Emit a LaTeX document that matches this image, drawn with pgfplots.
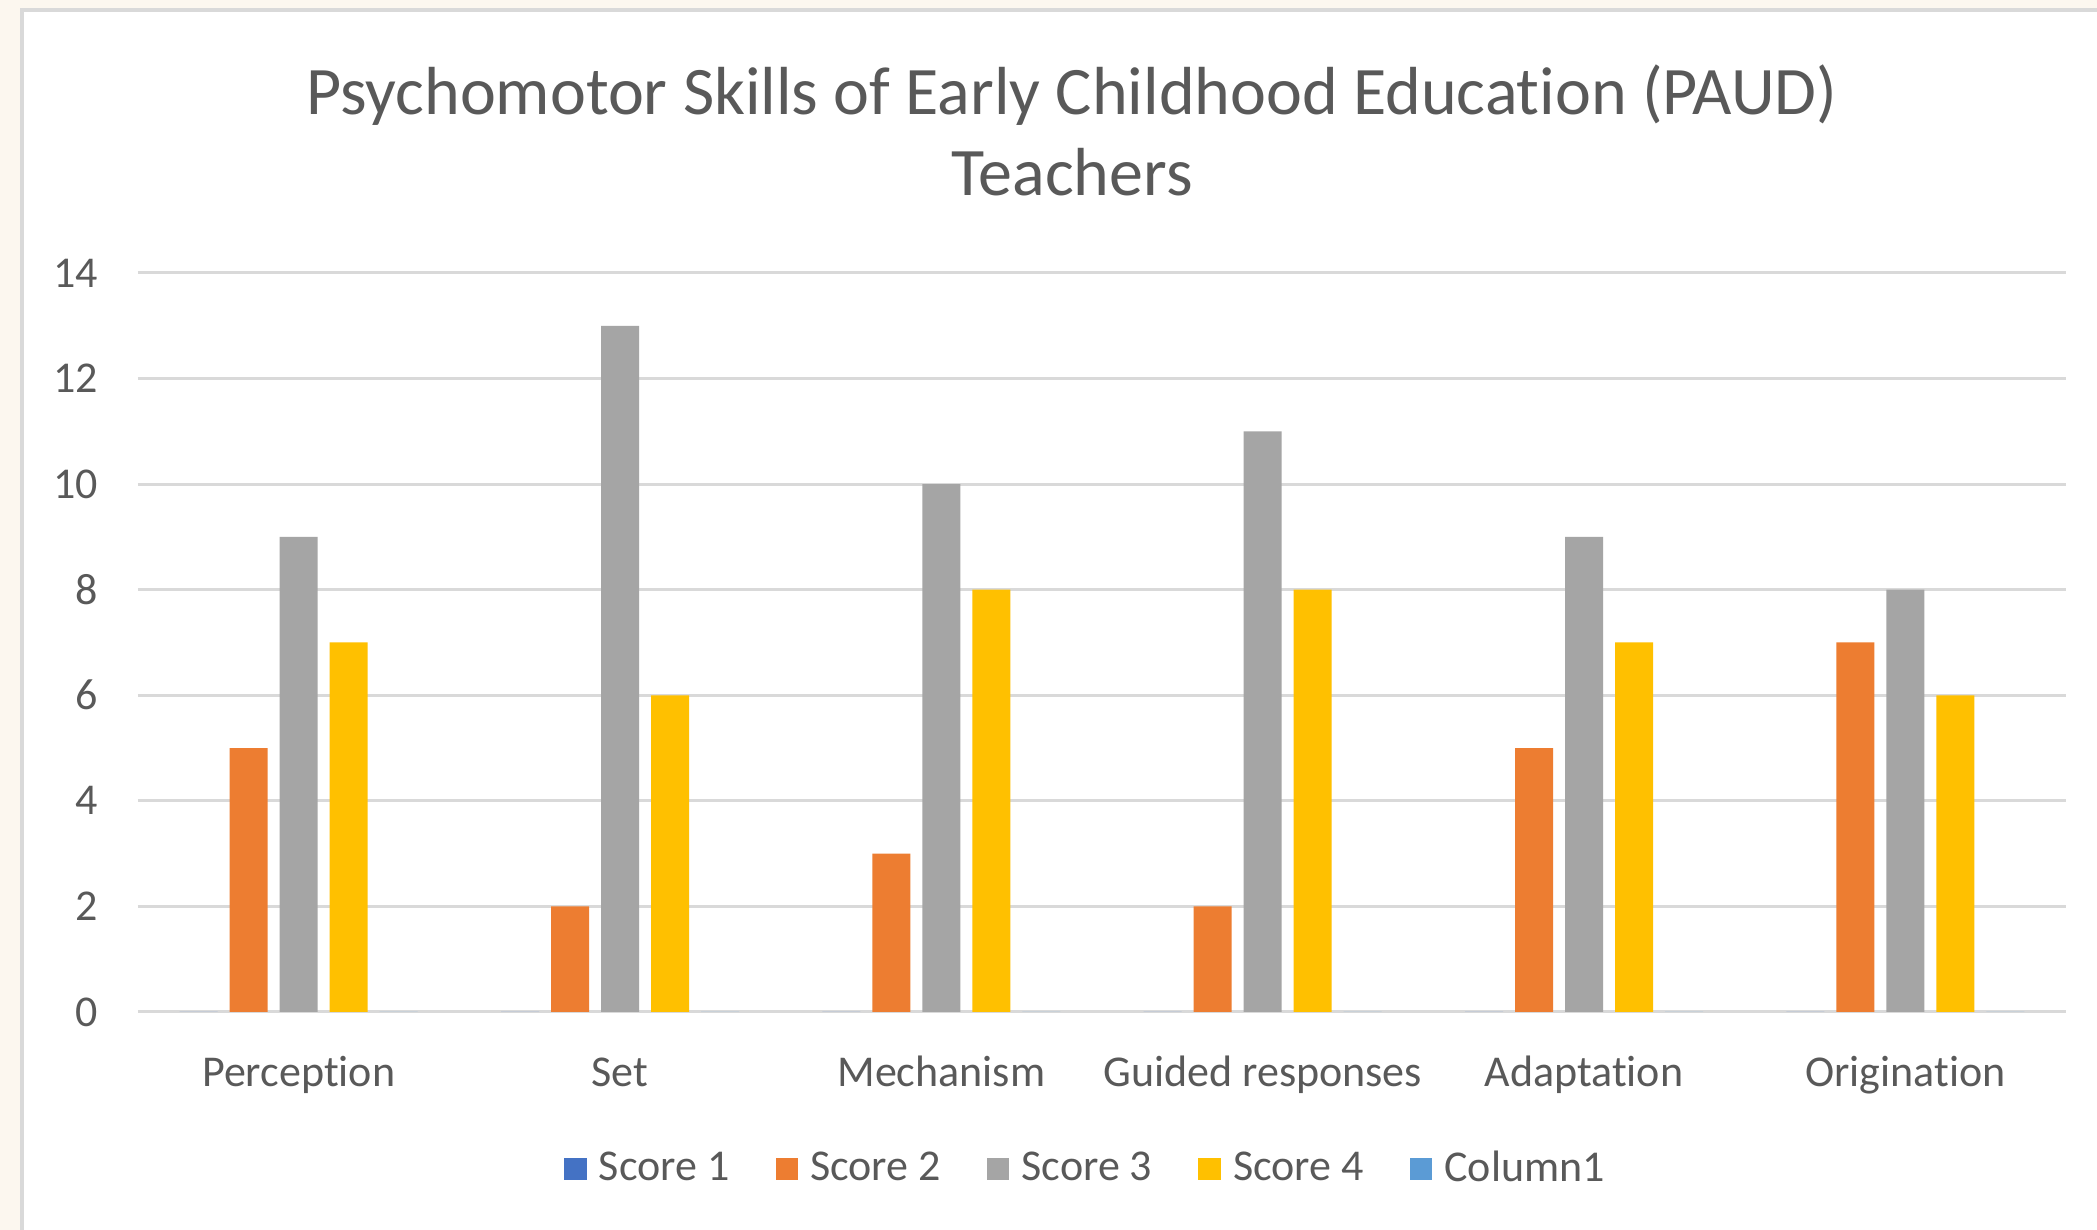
\documentclass[border=0pt]{standalone}
\usepackage{fontspec}
\setmainfont{Carlito}[Ligatures=NoCommon]
\usepackage{pgfplots}
\usepackage{pgfplotstable}
\pgfplotsset{compat=1.18}
\definecolor{cS1}{HTML}{4472C4}
\definecolor{cS2}{HTML}{ED7D31}
\definecolor{cS3}{HTML}{A5A5A5}
\definecolor{cS4}{HTML}{FFC000}
\definecolor{cC1}{HTML}{5B9BD5}
\definecolor{gridc}{HTML}{D9D9D9}
\definecolor{txt}{HTML}{595959}
\definecolor{cream}{HTML}{FCF7EF}
\pgfplotstableread{
x s1 s2 s3 s4 c1
0 0 5 9 7 0
1 0 2 13 6 0
2 0 3 10 8 0
3 0 2 11 8 0
4 0 5 9 7 0
5 0 7 8 6 0
}\data
\pgfplotsset{sqleg/.style={legend image code/.code={\fill[##1] (0pt,-2.8pt) rectangle (5.6pt,2.8pt);}}}
\begin{document}
\begin{tikzpicture}
\useasboundingbox (0,0) rectangle (524.25pt,307.5pt);
\clip (0,0) rectangle (524.25pt,307.5pt);
\fill[cream] (0,0) rectangle (524.25pt,307.5pt);
\draw[gridc, line width=1pt, fill=white] (5.5pt,-10pt) rectangle (540pt,304.9pt);
\node[anchor=base, text=txt, font=\fontsize{17}{20}\selectfont] at (268pt,278.75pt) {Psychomotor Skills of Early Childhood Education (PAUD)};
\node[anchor=base, text=txt, font=\fontsize{17}{20}\selectfont] at (268pt,258.7pt) {Teachers};
\begin{axis}[
  at={(34.5pt,54.5pt)}, anchor=south west,
  width=482pt, height=184.75pt, scale only axis,
  ybar=3pt, bar width=9.5pt,
  xmin=-0.5, xmax=5.5, ymin=0, ymax=14,
  xtick={0,...,5},
  xticklabels={Perception,Set,Mechanism,Guided responses,Adaptation,Origination},
  ytick={0,2,...,14},
  ymajorgrids, grid style={draw=gridc, line width=0.75pt},
  major tick length=0pt,
  axis line style={draw=none},
  tick label style={font=\fontsize{11}{13}\selectfont, text=txt},
  /pgf/number format/assume math mode=true,
  xticklabel style={text height=8pt, text depth=2pt, yshift=-7pt},
  yticklabel style={xshift=-6.4pt},
  legend columns=5,
  legend style={at={(0.4925,-0.2125)}, anchor=center, draw=none, fill=none,
    font=\fontsize{11}{13}\selectfont, text=txt,
    /tikz/every odd column/.append style={column sep=1.6pt},
    /tikz/every even column/.append style={column sep=10pt},
    nodes={inner sep=1.5pt}},
  legend cell align=left,
]
\addplot[fill=cS1, draw=none, sqleg] table[x=x, y=s1] {\data};
\addplot[fill=cS2, draw=none, sqleg] table[x=x, y=s2] {\data};
\addplot[fill=cS3, draw=none, sqleg] table[x=x, y=s3] {\data};
\addplot[fill=cS4, draw=none, sqleg] table[x=x, y=s4] {\data};
\addplot[fill=cC1, draw=none, sqleg] table[x=x, y=c1] {\data};
\legend{Score 1, Score 2, Score 3, Score 4, Column1}
\end{axis}
\end{tikzpicture}
\end{document}
